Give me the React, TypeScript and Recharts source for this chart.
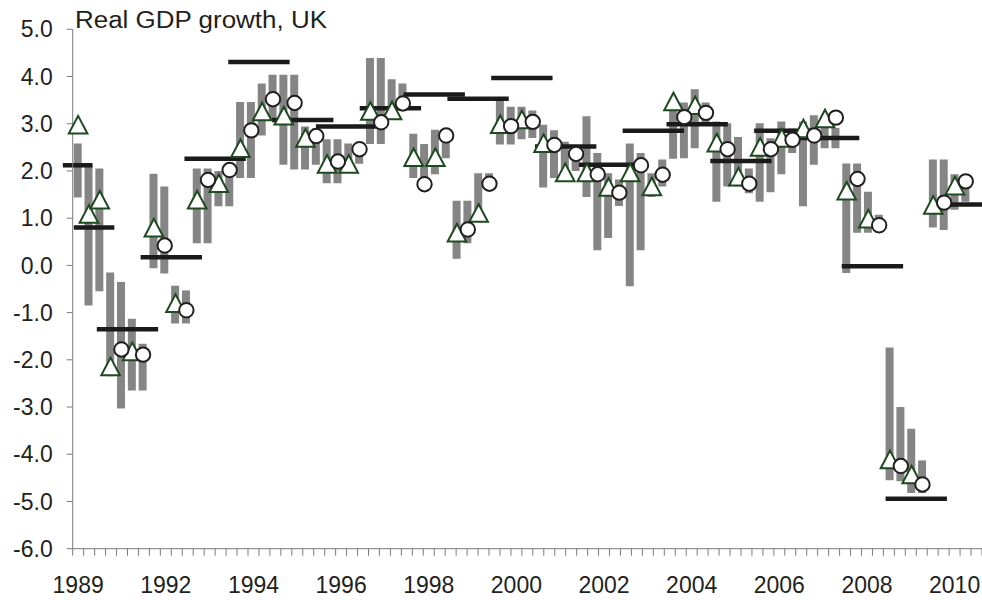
import React from 'react';
import { ComposedChart, Bar, Line, XAxis, YAxis, ReferenceLine } from 'recharts';

// ---- data ----
const outturnYears = [1989, 1990, 1991, 1992, 1993, 1994, 1995, 1996, 1997, 1998, 1999, 2000, 2001, 2002, 2003, 2004, 2005, 2006, 2007, 2008, 2009, 2010];
const outturn = [2.12, 0.8, -1.35, 0.17, 2.26, 4.31, 3.08, 2.94, 3.33, 3.62, 3.53, 3.97, 2.52, 2.13, 2.85, 2.99, 2.21, 2.85, 2.7, -0.02, -4.94, 1.29];

// forecasts shown with triangles (null where the marker is a circle)
const triangleForecast: (number | null)[] = [
  2.98, 1.09, 1.39, -2.14, null, -1.82, null, 0.8, null, -0.8, null, 1.39, null, 1.74, null, 2.48,
  null, 3.26, null, 3.17, null, 2.7, null, 2.15, null, 2.15, null, 3.27, null, 3.28, null, 2.29,
  null, 2.29, null, 0.69, null, 1.11, null, 2.99, null, 3.09, null, 2.59, null, 1.97, null, 1.97,
  null, 1.66, null, 1.97, null, 1.67, null, 3.47, null, 3.39, null, 2.6, null, 1.88, null, 2.51,
  null, 2.7, null, 2.9, null, 3.11, null, 1.58, null, 0.99, null, -4.11, null, -4.43, null, 1.28,
  null, 1.69, null, null,
];
// forecasts shown with circles
const circleForecast: (number | null)[] = [
  null, null, null, null, -1.78, null, -1.89, null, 0.42, null, -0.95, null, 1.81, null, 2.02, null,
  2.86, null, 3.52, null, 3.44, null, 2.74, null, 2.2, null, 2.46, null, 3.03, null, 3.43, null,
  1.72, null, 2.75, null, 0.76, null, 1.73, null, 2.95, null, 3.04, null, 2.55, null, 2.36, null,
  1.93, null, 1.54, null, 2.12, null, 1.92, null, 3.14, null, 3.23, null, 2.46, null, 1.73, null,
  2.46, null, 2.66, null, 2.75, null, 3.13, null, 1.83, null, 0.85, null, -4.25, null, -4.64, null,
  1.33, null, 1.78, null,
];
// forecast ranges (low / high)
const rangeLow: (number | null)[] = [
  1.44, -0.85, -0.55, -2.35, -3.03, -2.65, -2.65, -0.06, -0.17, -1.23, -1.23, 0.47, 0.47, 1.25, 1.25, 1.85,
  1.85, 2.75, 3.1, 2.13, 2.03, 2.03, 2.13, 1.74, 1.74, 1.96, 2.15, 2.57, 2.57, 3.08, 3.4, 1.85,
  1.81, 1.93, 2.27, 0.14, 0.47, 0.97, 1.6, 2.56, 2.56, 2.67, 2.7, 1.65, 1.85, 1.78, 2.0, 1.45,
  0.32, 0.58, 1.26, -0.44, 0.32, 1.45, 1.67, 2.26, 2.27, 2.48, 3.01, 1.35, 1.67, 1.67, 1.53, 1.35,
  1.55, 1.93, 2.38, 1.25, 2.13, 2.48, 2.48, -0.16, 0.69, 0.69, 0.69, -4.55, -4.57, -4.82, -4.82, 0.8,
  0.75, 1.18, 1.35, null,
];
const rangeHigh: (number | null)[] = [
  2.58, 2.15, 2.05, -0.15, -0.35, -1.13, -1.66, 1.94, 1.67, -0.43, -0.53, 2.05, 2.05, 2.0, 2.05, 3.46,
  3.46, 3.85, 4.04, 4.04, 4.04, 2.94, 2.9, 2.67, 2.67, 2.58, 2.6, 4.39, 4.39, 3.94, 3.85, 2.79,
  2.57, 2.87, 2.87, 1.37, 1.37, 1.95, 1.95, 3.49, 3.36, 3.36, 3.28, 2.98, 2.86, 2.62, 2.3, 3.16,
  2.38, 1.95, 1.82, 2.58, 2.38, 1.95, 2.24, 3.5, 3.45, 3.73, 3.45, 3.05, 3.01, 2.72, 2.05, 3.01,
  2.69, 3.05, 2.9, 3.05, 3.18, 2.91, 2.91, 2.16, 2.16, 1.56, 1.07, -1.74, -3.0, -3.46, -4.13, 2.24,
  2.24, 1.93, 1.9, null,
];

const xTickLabels = ['1989', '1992', '1994', '1996', '1998', '2000', '2002', '2004', '2006', '2008', '2010'];
const yTicks = [-6, -5, -4, -3, -2, -1, 0, 1, 2, 3, 4, 5];

// ---- layout / style constants ----
const CATS = triangleForecast.length; // 84 forecast slots
const PER_YEAR = 4;
const LABEL_EVERY = 8;
const LINE_HALF = 2.8; // half width of outturn bar, in slot units
const spanOverride: Record<number, [number, number]> = { 1989: [-0.9, 1.8], 1990: [0.1, 3.8] };

const FONT = '"Liberation Sans", Arial, Helvetica, sans-serif';
const TEXT = '#231f20';
const AXIS = '#7a7a7a';

const data = triangleForecast.map((t, i) => ({
  idx: i,
  tri: t,
  circ: circleForecast[i],
  range: rangeLow[i] == null || rangeHigh[i] == null ? null : [rangeLow[i], rangeHigh[i]],
}));

const numTicks: number[] = [];
for (let i = 0; i <= CATS; i++) numTicks.push(i);
xTickLabels.forEach((_, k) => numTicks.push(k * LABEL_EVERY + 0.5));

const XTick = (props: any) => {
  const { x, y, payload } = props;
  const v = payload.value as number;
  if (Number.isInteger(v)) {
    return <line x1={x} x2={x} y1={y - 7} y2={y} stroke={AXIS} strokeWidth={1} />;
  }
  const k = Math.round((v - 0.5) / LABEL_EVERY);
  return (
    <text x={x} y={y + 37} textAnchor="middle" fontSize={23} fontFamily={FONT} fill={TEXT}>
      {xTickLabels[k]}
    </text>
  );
};

const TriangleDot = (props: any) => {
  const { cx, cy, index, value } = props;
  if (value == null || cx == null || cy == null || isNaN(cy)) return <g key={`t${index}`} />;
  const h = 8.8;
  const w = 9.3;
  return (
    <path
      key={`t${index}`}
      d={`M${cx},${cy - h} L${cx + w},${cy + h} L${cx - w},${cy + h} Z`}
      fill="#ffffff"
      stroke="#1d4a1f"
      strokeWidth={2}
    />
  );
};

const CircleDot = (props: any) => {
  const { cx, cy, index, value } = props;
  if (value == null || cx == null || cy == null || isNaN(cy)) return <g key={`c${index}`} />;
  return <circle key={`c${index}`} cx={cx} cy={cy} r={7.2} fill="#ffffff" stroke={TEXT} strokeWidth={2} />;
};

export default function App() {
  return (
    <div style={{ position: 'absolute', left: 0, top: 0, width: 982, height: 600, background: '#fff' }}>
      <ComposedChart width={982} height={600} data={data} margin={{ top: 29.3, right: 0, bottom: 0, left: 0 }}>
        <XAxis xAxisId="cat" dataKey="idx" type="category" hide height={0} />
        <XAxis
          xAxisId="num"
          type="number"
          domain={[0, CATS]}
          ticks={numTicks}
          interval={0}
          height={51.3}
          tickSize={7}
          tickMargin={0}
          tickLine={false}
          stroke={AXIS}
          tick={<XTick />}
          allowDataOverflow
        />
        <YAxis
          domain={[-6, 5]}
          ticks={yTicks}
          interval={0}
          width={72.7}
          tickSize={6}
          tickMargin={14}
          stroke={AXIS}
          tickFormatter={(v: number) => v.toFixed(1)}
          tick={{ fontSize: 23, fontFamily: FONT, fill: TEXT }}
          allowDataOverflow
        />
        <Bar xAxisId="cat" dataKey="range" fill="#858585" barSize={8} isAnimationActive={false} />
        {outturn.map((v, i) => {
          const year = outturnYears[i];
          const center = PER_YEAR * (year - 1990) + 1;
          const span = spanOverride[year] ?? [center - LINE_HALF, center + LINE_HALF];
          return (
            <ReferenceLine
              key={year}
              xAxisId="num"
              segment={[{ x: span[0], y: v }, { x: span[1], y: v }]}
              stroke="#1a1a1a"
              strokeWidth={4.5}
              ifOverflow="visible"
            />
          );
        })}
        <Line xAxisId="cat" dataKey="tri" stroke="none" dot={TriangleDot} activeDot={false} isAnimationActive={false} legendType="none" />
        <Line xAxisId="cat" dataKey="circ" stroke="none" dot={CircleDot} activeDot={false} isAnimationActive={false} legendType="none" />
      </ComposedChart>
      <svg width={982} height={40} style={{ position: 'absolute', left: 0, top: 0, pointerEvents: 'none' }}>
        <text x={75} y={28.3} fontSize={23.5} fontFamily={FONT} fill={TEXT} textLength={252} lengthAdjust="spacingAndGlyphs">
          Real GDP growth, UK
        </text>
      </svg>
    </div>
  );
}
